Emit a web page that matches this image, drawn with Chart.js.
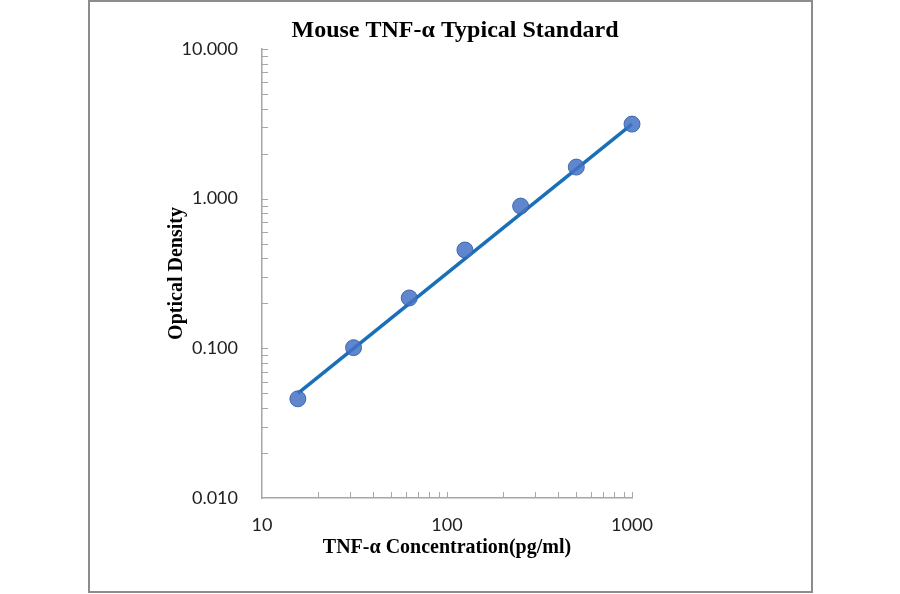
<!DOCTYPE html>
<html>
<head>
<meta charset="utf-8">
<script src="https://cdn.jsdelivr.net/npm/chart.js@4/dist/chart.umd.min.js"></script>
<style>
  html, body { margin: 0; padding: 0; background: #fff; }
  canvas { display: block; }
</style>
</head>
<body>
<canvas id="chart" width="900" height="594"></canvas>
<script>
// standard concentrations (pg/ml) and measured optical density
const concentrations = [15.625, 31.25, 62.5, 125, 250, 500, 1000];
const odValues = [0.046, 0.101, 0.217, 0.454, 0.892, 1.626, 3.15];
// ends of the fitted trendline
const fitX = [15.625, 1000];
const fitY = [0.050, 3.15];
// tick labels
const xTicks = [10, 100, 1000];
const yTicks = [0.01, 0.1, 1, 10];
const yTickLabels = ["0.010", "0.100", "1.000", "10.000"];

const axisGray = "#a6a6a6";

//frame round the whole figure
const framePlugin = {
  id: "frame",
  beforeDraw(chart) {
    const ctx = chart.ctx;
    ctx.save();
    ctx.fillStyle = "#fff";
    ctx.fillRect(0, 0, chart.width, chart.height);
    ctx.strokeStyle = "#8c8c8c";
    ctx.lineWidth = 2;
    ctx.strokeRect(89, 1, 723, 591);
    ctx.restore();
  }
};

//small inward ticks at 2..10 of every decade
const minorTicks = {
  id: "minorTicks",
  afterDraw(chart) {
    const { ctx, chartArea } = chart;
    const xs = chart.scales.x, ys = chart.scales.y;
    ctx.save();
    ctx.strokeStyle = axisGray;
    ctx.lineWidth = 1;
    ctx.beginPath();
    [10, 100].forEach(d => {
      for (let m = 2; m <= 10; m++) {
        const px = Math.round(xs.getPixelForValue(m * d)) + 0.5;
        ctx.moveTo(px, chartArea.bottom);
        ctx.lineTo(px, chartArea.bottom - 6);
      }
    });
    [0.01, 0.1, 1].forEach(d => {
      for (let m = 2; m <= 10; m++) {
        const py = Math.round(ys.getPixelForValue(m * d)) + 0.5;
        ctx.moveTo(chartArea.left, py);
        ctx.lineTo(chartArea.left + 6, py);
      }
    });
    ctx.stroke();
    ctx.restore();
  }
};

new Chart(document.getElementById("chart"), {
  type: "scatter",
  plugins: [framePlugin, minorTicks],
  data: {
    datasets: [
      {
        label: "Standard",
        data: concentrations.map((c, i) => ({ x: c, y: odValues[i] })),
        backgroundColor: "rgba(68,114,196,0.85)",
        borderColor: "rgba(55,96,170,0.9)",
        borderWidth: 1,
        pointRadius: 8,
        pointHoverRadius: 8,
        showLine: false,
        clip: false
      },
      {
        label: "Fit",
        data: fitX.map((c, i) => ({ x: c, y: fitY[i] })),
        showLine: true,
        borderColor: "#1a70b8",
        borderWidth: 3.5,
        pointRadius: 0,
        pointHoverRadius: 0,
        clip: false
      }
    ]
  },
  options: {
    responsive: false,
    animation: false,
    devicePixelRatio: 1,
    layout: { padding: { left: 10, right: 0, top: 0, bottom: 0 } },
    plugins: {
      legend: { display: false },
      tooltip: { enabled: false },
      title: {
        display: true,
        text: "Mouse TNF-\u03b1 Typical Standard",
        color: "#000",
        font: { family: "Liberation Serif", size: 24, weight: "bold", lineHeight: 1.2 },
        padding: { top: 16.6, bottom: 3.6 }
      }
    },
    scales: {
      x: {
        type: "logarithmic",
        min: 10,
        max: 1000,
        afterBuildTicks: s => { s.ticks = xTicks.map(v => ({ value: v })); },
        afterFit: s => { s.height = 96; },
        grid: { display: true, drawOnChartArea: false, drawTicks: false },
        border: { display: true, color: axisGray, width: 1.5 },
        ticks: {
          color: "#222",
          font: { family: "Lato", size: 18 },
          padding: 16,
          maxRotation: 0,
          callback: v => String(v)
        },
        title: {
          display: true,
          text: "TNF-\u03b1 Concentration(pg/ml)",
          color: "#000",
          font: { family: "Liberation Serif", size: 20, weight: "bold", lineHeight: 1.2 },
          padding: { top: 0, bottom: 34 }
        }
      },
      y: {
        type: "logarithmic",
        min: 0.01,
        max: 10,
        afterBuildTicks: s => { s.ticks = yTicks.map(v => ({ value: v })); },
        afterFit: s => { s.width = 252; },
        grid: { display: true, drawOnChartArea: false, drawTicks: false },
        border: { display: true, color: axisGray, width: 1.5 },
        ticks: {
          color: "#222",
          font: { family: "Lato", size: 18 },
          padding: 24,
          callback: (v, i) => yTickLabels[i]
        },
        title: {
          display: true,
          text: "Optical Density",
          color: "#000",
          font: { family: "Liberation Serif", size: 20, weight: "bold", lineHeight: 1.2 },
          padding: { top: 155, bottom: 0 }
        }
      },
      //empty right axis, only keeps room so the title stays centred on the figure
      y2: {
        type: "linear",
        position: "right",
        display: true,
        afterFit: s => { s.width = 268; },
        grid: { display: false },
        border: { display: false },
        ticks: { display: false }
      }
    }
  }
});
</script>
</body>
</html>
